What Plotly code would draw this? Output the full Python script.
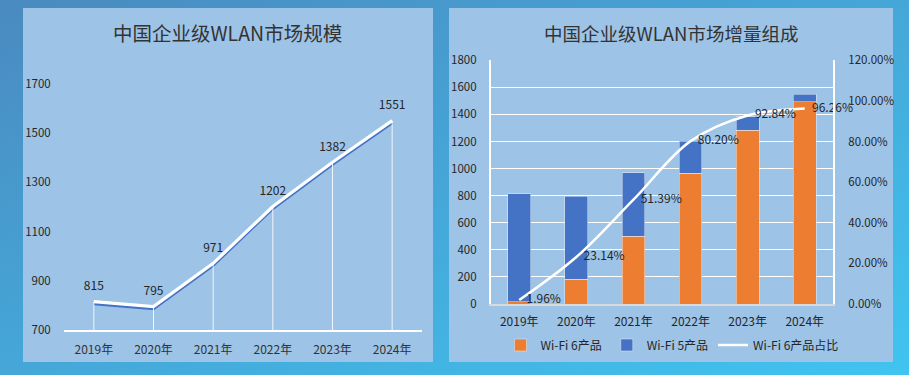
import base64
import plotly.graph_objects as go

# ---------------- data ----------------
years = ["2019年", "2020年", "2021年", "2022年", "2023年", "2024年"]
market_size = [815, 795, 971, 1202, 1382, 1551]
wifi6 = [16, 184, 499, 964, 1283, 1493]
wifi5 = [799, 611, 472, 238, 99, 58]
wifi6_share = [1.96, 23.14, 51.39, 80.20, 92.84, 96.26]
left_ticks = [700, 900, 1100, 1300, 1500, 1700]
right_left_ticks = [0, 200, 400, 600, 800, 1000, 1200, 1400, 1600, 1800]
right_right_ticks = [0, 20, 40, 60, 80, 100, 120]

W, H = 909, 375
FONT = "Noto Sans CJK SC"
TXT = "#262626"
ORANGE = "#ED7D31"
BLUE = "#4472C4"
PANEL = "#9DC3E6"


def px(x):
    return x / W


def py(y):
    return 1 - y / H


fig = go.Figure()

# ---------- left chart: market size ----------
base = left_ticks[0]
# blue shadow under the white line (hidden axis shifted 2px down)
fig.add_trace(go.Scatter(
    x=years, y=market_size, xaxis="x", yaxis="y", mode="lines",
    line=dict(color=BLUE, width=3), hoverinfo="skip", showlegend=False))
fig.add_trace(go.Scatter(
    x=years, y=market_size, xaxis="x", yaxis="y2", mode="lines+markers+text",
    line=dict(color="white", width=3.2),
    marker=dict(size=12, color="rgba(0,0,0,0)"),
    text=[str(v) for v in market_size], textposition="top center",
    textfont=dict(family=FONT, size=12, color=TXT), cliponaxis=False,
    error_y=dict(type="data", symmetric=False,
                 array=[0] * len(market_size),
                 arrayminus=[v - base for v in market_size],
                 color="rgba(255,255,255,0.85)", thickness=1, width=0),
    showlegend=False))

# ---------- right chart: stacked bars + share line ----------
fig.add_trace(go.Bar(x=years, y=wifi6, name="Wi-Fi 6产品", marker_color=ORANGE,
                     xaxis="x2", yaxis="y3"))
fig.add_trace(go.Bar(x=years, y=wifi5, name="Wi-Fi 5产品", marker_color=BLUE,
                     xaxis="x2", yaxis="y3"))
fig.add_trace(go.Scatter(
    x=years, y=wifi6_share, name="Wi-Fi 6产品占比", xaxis="x2", yaxis="y4",
    mode="lines+markers+text", line=dict(color="white", width=2.5, shape="spline"),
    marker=dict(size=10, color="rgba(0,0,0,0)"),
    texttemplate="%{y:.2f}%", textposition="middle right", cliponaxis=False,
    textfont=dict(family=FONT, size=12, color=TXT)))

# background gradient
svg = (
    '<svg xmlns="http://www.w3.org/2000/svg" width="909" height="375" preserveAspectRatio="none">'
    '<defs><linearGradient id="g" x1="0" y1="0" x2="1" y2="1">'
    '<stop offset="0" stop-color="#4A8AC0"/>'
    '<stop offset="1" stop-color="#40C4F0"/></linearGradient></defs>'
    '<rect width="909" height="375" fill="url(#g)"/></svg>')
src = "data:image/svg+xml;base64," + base64.b64encode(svg.encode()).decode()

tickfont = dict(family=FONT, size=11.5, color=TXT)
catfont = dict(family=FONT, size=12, color="#333333")

L_X0, L_X1, L_Y0, L_Y1 = 64, 422, 84, 330
R_X0, R_X1, R_Y0, R_Y1 = 490.7, 833.3, 60.3, 304

fig.update_layout(
    width=W, height=H, margin=dict(l=0, r=0, t=0, b=0, pad=0, autoexpand=False),
    paper_bgcolor="#45A5D8", plot_bgcolor="rgba(0,0,0,0)",
    font=dict(family=FONT, color=TXT),
    barmode="stack", bargap=0.6,
    images=[dict(source=src, xref="paper", yref="paper", x=0, y=1,
                 sizex=1, sizey=1, sizing="stretch", layer="below",
                 xanchor="left", yanchor="top")],
    shapes=[
        dict(type="rect", xref="paper", yref="paper", layer="below",
             x0=px(23), x1=px(433), y0=py(362), y1=py(8),
             fillcolor=PANEL, line=dict(width=0)),
        dict(type="rect", xref="paper", yref="paper", layer="below",
             x0=px(449), x1=px(893), y0=py(362), y1=py(8),
             fillcolor=PANEL, line=dict(width=0)),
    ],
    annotations=[
        dict(text="中国企业级WLAN市场规模", xref="paper", yref="paper",
             x=px(228), y=py(33), xanchor="center", yanchor="middle",
             showarrow=False, font=dict(family=FONT, size=19.5, color="#333333")),
        dict(text="中国企业级WLAN市场增量组成", xref="paper", yref="paper",
             x=px(671), y=py(33), xanchor="center", yanchor="middle",
             showarrow=False, font=dict(family=FONT, size=18.5, color="#333333")),
    ],
    xaxis=dict(domain=[px(L_X0), px(L_X1)], anchor="y2", range=[-0.5, 5.5],
               showline=True, linecolor="white", linewidth=1.5,
               showgrid=False, ticks="outside", ticklen=8, tickcolor="rgba(0,0,0,0)",
               tickfont=catfont),
    yaxis=dict(domain=[py(L_Y1) - 2 / H, py(L_Y0) - 2 / H], anchor="x",
               range=[700, 1700], visible=False),
    yaxis2=dict(domain=[py(L_Y1), py(L_Y0)], anchor="x", range=[700, 1700],
                tickvals=left_ticks, showgrid=False, zeroline=False,
                ticks="outside", ticklen=10, tickcolor="rgba(0,0,0,0)",
                tickfont=tickfont),
    xaxis2=dict(domain=[px(R_X0), px(R_X1)], anchor="y3", range=[-0.5, 5.5],
                showline=True, linecolor="#D9D9D9", linewidth=1.5,
                showgrid=False, ticks="outside", ticklen=6,
                tickcolor="rgba(0,0,0,0)", tickfont=dict(family=FONT, size=12, color=TXT)),
    yaxis3=dict(domain=[py(R_Y1), py(R_Y0)], anchor="x2", range=[0, 1800],
                tickvals=right_left_ticks, showgrid=True, gridcolor="white",
                gridwidth=1, zeroline=False, showline=True, linecolor="white",
                linewidth=1.5, ticks="outside", ticklen=10,
                tickcolor="rgba(0,0,0,0)", tickfont=tickfont),
    yaxis4=dict(overlaying="y3", anchor="x2", side="right", range=[0, 120],
                tickvals=right_right_ticks,
                ticktext=[f"{v:.2f}%" for v in right_right_ticks],
                showgrid=False, zeroline=False, showline=True, linecolor="white",
                linewidth=1.5, ticks="outside", ticklen=11,
                tickcolor="rgba(0,0,0,0)", tickfont=tickfont),
    legend=dict(orientation="h", x=px(672), xanchor="center", y=py(345),
                yanchor="middle", bgcolor="rgba(0,0,0,0)",
                font=dict(family=FONT, size=12, color=TXT),
                traceorder="normal"),
)

fig.write_html("out.html", config={"displayModeBar": False},
               post_script="document.body.style.margin='0';"
                           "document.body.style.overflow='hidden';")
